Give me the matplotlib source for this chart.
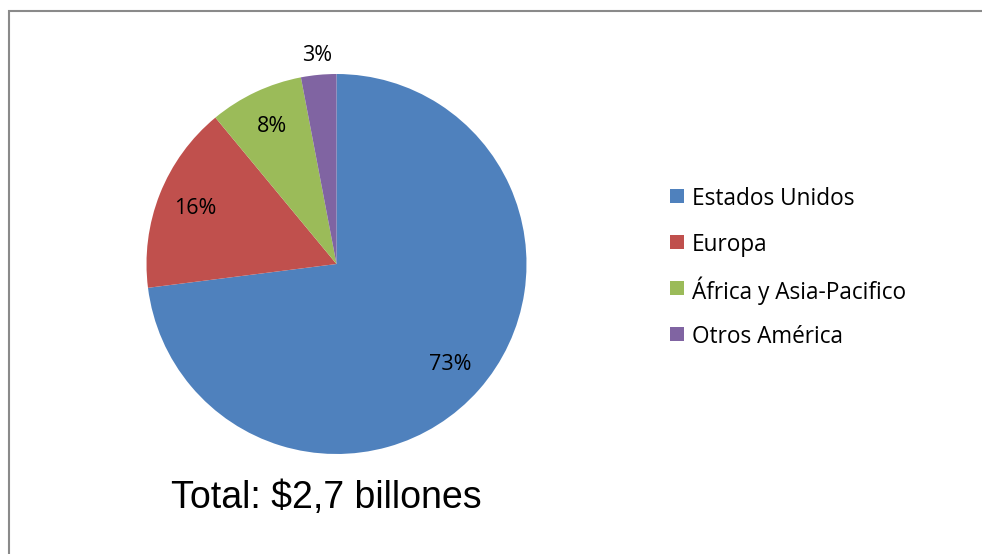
import numpy as np
import matplotlib
matplotlib.use("Agg")
import matplotlib.pyplot as plt
from matplotlib.patches import Rectangle

# data
regions = ["Estados Unidos", "Europa", "África y Asia-Pacifico", "Otros América"]
shares = [73, 16, 8, 3]
colors = ["#4F81BD", "#C0504D", "#9BBB59", "#8064A2"]
total_label = "Total: $2,7 billones"

W, H = 982, 554
fig = plt.figure(figsize=(W / 100, H / 100), dpi=100)
label_font = ["Open Sans", "DejaVu Sans"]

# outer chart frame (only top and left edges visible in the crop)
fig.patches.append(Rectangle((8.5 / W, -0.1), 1.2, (H - 11) / H + 0.1,
                             transform=fig.transFigure, fill=False,
                             edgecolor="#8a8a8a", linewidth=1.5))

# pie axes: centre (336, 264) px from top-left, radius 190 px
cx, cy, r = 336.5, 264, 190
ax = fig.add_axes([(cx - r) / W, (H - cy - r) / H, 2 * r / W, 2 * r / H])
wedges, texts, autotexts = ax.pie(
    shares, colors=colors, startangle=90, counterclock=False,
    autopct="%d%%", pctdistance=0.8, radius=1,
    wedgeprops=dict(edgecolor="none"),
    textprops=dict(family=label_font, fontsize=15.5, color="black"))
ax.set_xlim(-1, 1)
ax.set_ylim(-1, 1)
ax.set_aspect("equal")
ax.axis("off")

# small slice label sits outside the pie
w = wedges[3]
mid = np.deg2rad((w.theta1 + w.theta2) / 2)
autotexts[3].set_position((1.1 * np.cos(mid), 1.1 * np.sin(mid)))

# legend drawn by hand so the rows stay evenly spaced
leg_x, leg_y, row_gap, box = 670, 196, 46, 13.5
for i, (name, c) in enumerate(zip(regions, colors)):
    y = leg_y + i * row_gap
    fig.patches.append(Rectangle((leg_x / W, 1 - (y + box / 2) / H), box / W, box / H,
                                 transform=fig.transFigure, facecolor=c, edgecolor="none"))
    fig.text((leg_x + box + 8.5) / W, 1 - y / H, name, ha="left", va="center_baseline",
             fontsize=16.3, family=label_font)

fig.text(326 / W, 1 - 498 / H, total_label, ha="center", va="center",
         fontsize=27, family=["Liberation Sans Narrow", "Liberation Sans", "DejaVu Sans"])

fig.savefig("out.png", dpi=100)
